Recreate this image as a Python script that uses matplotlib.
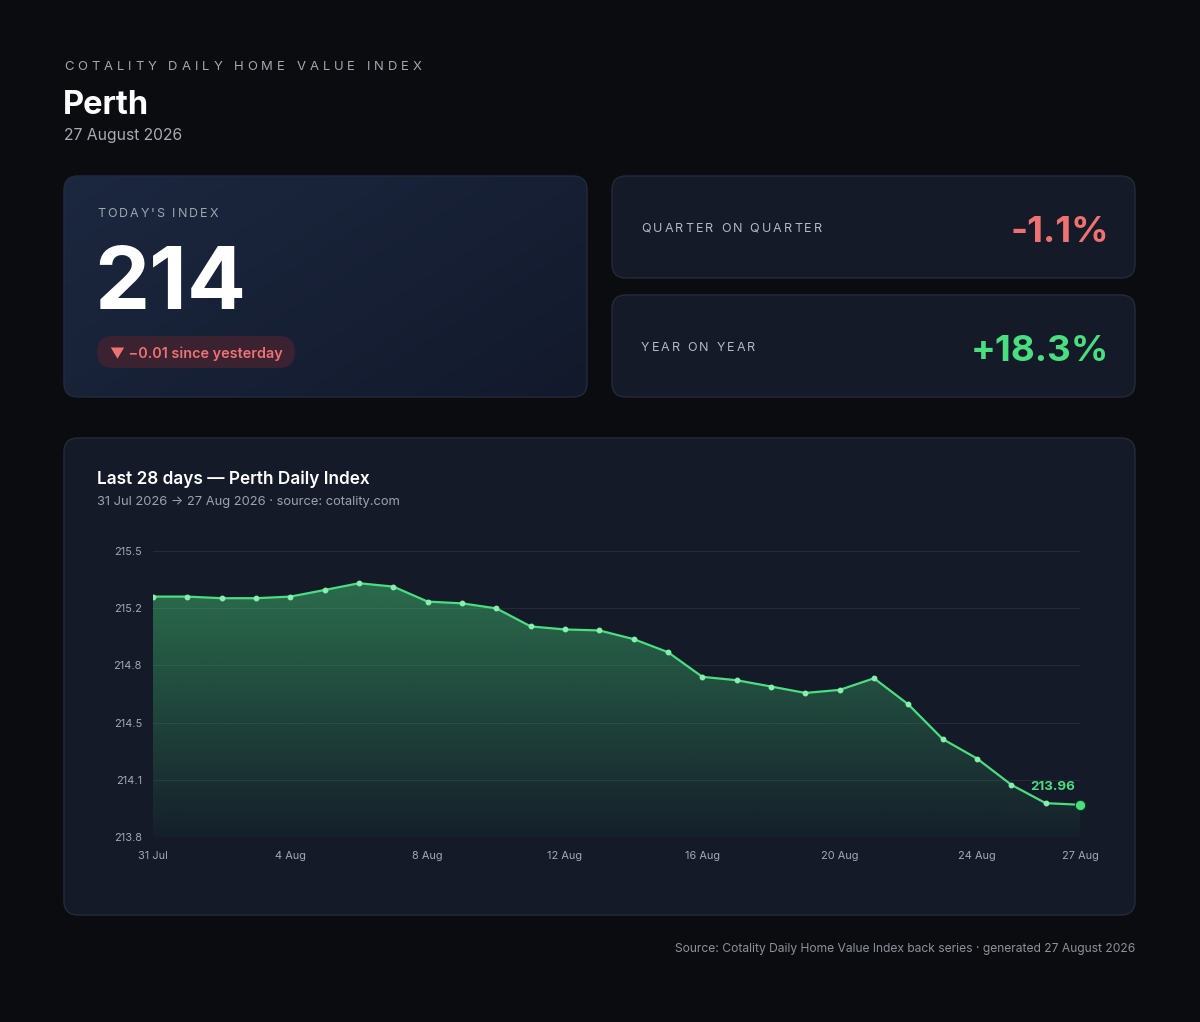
import matplotlib
matplotlib.use("Agg")
import matplotlib.pyplot as plt
import numpy as np
import pandas as pd
from matplotlib.patches import FancyBboxPatch

plt.rcParams['font.family'] = ['Inter', 'DejaVu Sans']

# --- data -------------------------------------------------------------
dates = pd.date_range('2026-07-31', '2026-08-27', freq='D')
values = [215.252, 215.252, 215.242, 215.242, 215.252, 215.293, 215.335,
          215.314, 215.221, 215.210, 215.179, 215.067, 215.048, 215.042,
          214.988, 214.907, 214.754, 214.733, 214.694, 214.654, 214.673,
          214.745, 214.583, 214.368, 214.247, 214.084, 213.970, 213.960]
tick_idx = [0, 4, 8, 12, 16, 20, 24, 27]
today_index = "214"
day_change = "▼ −0.01 since yesterday"
qoq = "-1.1%"
yoy = "+18.3%"

BG = '#0b0c10'
CARD = '#141a28'
EDGE = '#232b3b'
GREEN = '#4ade80'
RED = '#f07171'

fig = plt.figure(figsize=(12, 10.22), dpi=100, facecolor=BG)
bg = fig.add_axes([0, 0, 1, 1])
bg.set_xlim(0, 1200)
bg.set_ylim(1022, 0)
bg.axis('off')
renderer = fig.canvas.get_renderer()


def card(x, y, w, h, face=CARD, r=14):
    p = FancyBboxPatch((x, y), w, h, boxstyle=f"round,pad=0,rounding_size={r}",
                       facecolor=face, edgecolor=EDGE, linewidth=1, zorder=1)
    bg.add_patch(p)
    return p


def tracked(x, y, s, track, **kw):
    """draw text with letter spacing, one glyph at a time"""
    def width(t):
        tx = bg.text(0, 0, t, **kw)
        w = tx.get_window_extent(renderer).width
        tx.remove()
        return w
    space = width('x x') - width('xx')
    for ch in s:
        bg.text(x, y, ch, va='baseline', ha='left', **kw)
        x += (space if ch == ' ' else width(ch)) + track


# header
tracked(64, 70, "COTALITY DAILY HOME VALUE INDEX", 4.0, fontsize=9.4, color='#a3a8b1')
bg.text(63, 114, "Perth", fontsize=23.5, fontweight='bold', color='white', va='baseline')
bg.text(64, 140, "27 August 2026", fontsize=11.3, color='#a6abb4', va='baseline')

# today's index card with soft gradient
c1 = card(64, 176, 523, 221, face='none')
grad = np.linspace(0, 1, 256)
gx, gy = np.meshgrid(grad, grad)
t = np.clip((gx * 0.6 + gy * 0.4), 0, 1)
c_a = np.array([0x1c, 0x28, 0x40]) / 255
c_b = np.array([0x12, 0x19, 0x2b]) / 255
img = c_a[None, None, :] * (1 - t[..., None]) + c_b[None, None, :] * t[..., None]
im = bg.imshow(img, extent=(64, 587, 397, 176), aspect='auto', zorder=0.9)
im.set_clip_path(c1)
tracked(97, 217, "TODAY'S INDEX", 2.0, fontsize=9.0, color='#a0a6b0')
bg.text(94, 309, today_index, fontsize=63, fontweight='bold', color='white', va='baseline')
pill = FancyBboxPatch((97, 336), 198, 32, boxstyle="round,pad=0,rounding_size=16",
                      facecolor='#3a2231', edgecolor='none', zorder=2)
bg.add_patch(pill)
bg.text(110, 358, day_change, fontsize=10.4, fontweight='semibold', color=RED,
        va='baseline', zorder=3)

# qoq / yoy cards
card(612, 176, 523, 102)
card(612, 295, 523, 102)
tracked(641, 232, "QUARTER ON QUARTER", 2.1, fontsize=9.0, color='#b4b9c2')
tracked(641, 351, "YEAR ON YEAR", 2.1, fontsize=9.0, color='#b4b9c2')
bg.text(1109, 242, qoq, fontsize=26.5, fontweight='bold', color=RED, ha='right', va='baseline')
bg.text(1109, 361, yoy, fontsize=26.5, fontweight='bold', color=GREEN, ha='right', va='baseline')

# chart card
card(64, 438, 1071, 477)
bg.text(97, 484, "Last 28 days — Perth Daily Index", fontsize=12.4, fontweight='semibold',
        color='white', va='baseline')
bg.text(97, 505, "31 Jul 2026 → 27 Aug 2026 · source: cotality.com", fontsize=9.3,
        color='#9ca3af', va='baseline')
bg.text(1135, 952, "Source: Cotality Daily Home Value Index back series · generated 27 August 2026",
        fontsize=8.7, color='#8b9099', ha='right', va='baseline')

# --- line chart -------------------------------------------------------
ax = fig.add_axes([153 / 1200, 1 - 837 / 1022, (1080 - 153) / 1200, (837 - 551) / 1022])
ax.set_facecolor('none')
x = np.arange(len(values))
ylo, yhi = min(values) - 0.2, max(values) + 0.2
ax.set_xlim(0, len(values) - 1)
ax.set_ylim(ylo, yhi)

fill = ax.fill_between(x, values, ylo, facecolor='none', edgecolor='none')
alpha = np.linspace(0.42, 0.03, 256)[:, None]
rgba = np.zeros((256, 1, 4))
rgba[..., :3] = matplotlib.colors.to_rgb(GREEN)
rgba[..., 3] = alpha
g = ax.imshow(rgba, extent=(0, len(values) - 1, ylo, max(values)), aspect='auto',
              origin='upper', zorder=1)
g.set_clip_path(fill.get_paths()[0], ax.transData)

ax.plot(x, values, color=GREEN, lw=1.6, zorder=3)
ax.plot(x[:-1], values[:-1], 'o', ms=3.2, color='#86efac', zorder=4)
ax.plot(x[-1], values[-1], 'o', ms=7.5, color=GREEN, mec='#0f3a22', mew=0.8,
        zorder=5, clip_on=False)
ax.annotate(f"{values[-1]:.2f}", (x[-1], values[-1]), xytext=(-20, 13),
            textcoords='offset points', ha='center', va='center', fontsize=9.6,
            fontweight='bold', color=GREEN)

yt = np.linspace(ylo, yhi, 6)
ax.set_yticks(yt)
ax.set_yticklabels([f"{v:.1f}" for v in yt])
ax.set_xticks(tick_idx)
ax.set_xticklabels([dates[i].strftime('%-d %b') for i in tick_idx])
ax.grid(axis='y', color='#232a3a', lw=0.8)
ax.set_axisbelow(True)
ax.tick_params(length=0, colors='#a3a9b3', labelsize=7.9)
ax.tick_params(axis='y', pad=8)
ax.tick_params(axis='x', pad=10)
for s in ax.spines.values():
    s.set_visible(False)

fig.savefig('out.png', dpi=100, facecolor=BG)
